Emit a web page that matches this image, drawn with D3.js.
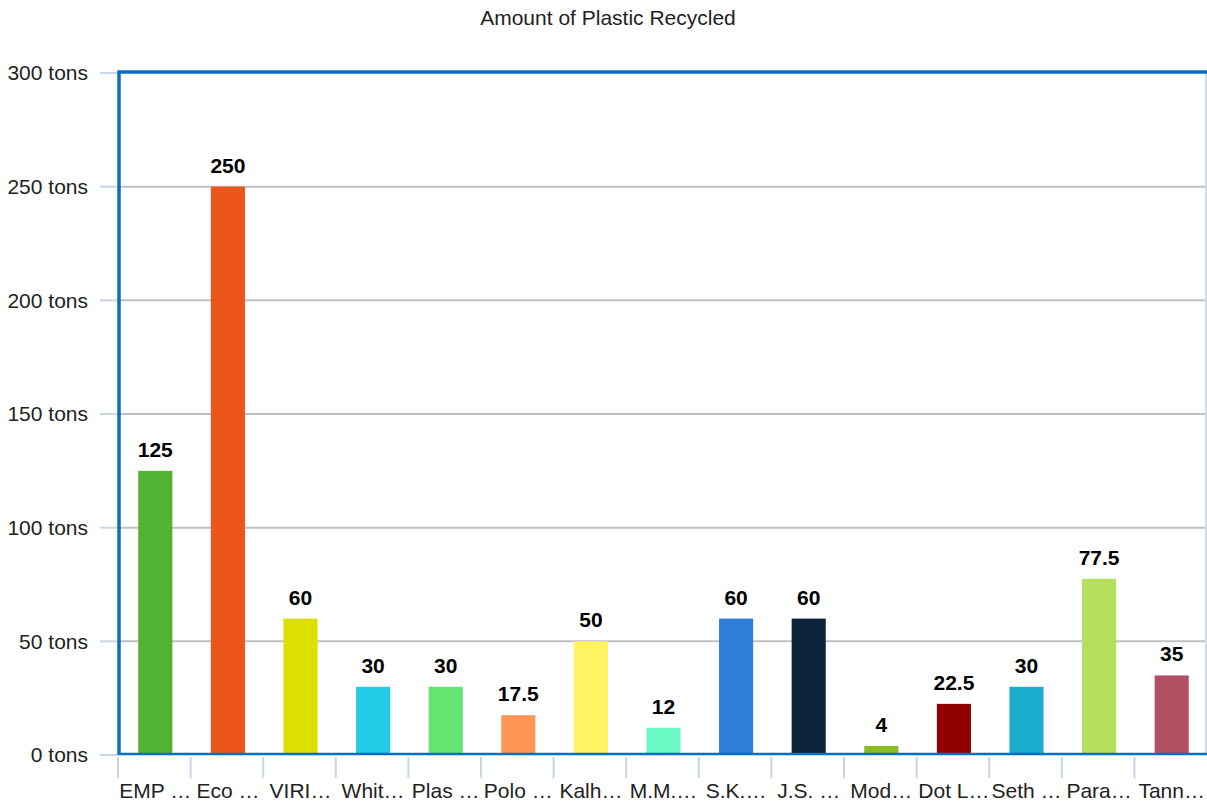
<!DOCTYPE html>
<html>
<head>
<meta charset="utf-8">
<script src="https://cdn.jsdelivr.net/npm/d3@7"></script>
<style>
body{margin:0;background:#fff;}
</style>
</head>
<body>
<div id="chart"></div>
<script>
var categories = ["EMP …","Eco …","VIRI…","Whit…","Plas …","Polo …","Kalh…","M.M.…","S.K.…","J.S. …","Mod…","Dot L…","Seth …","Para…","Tann…"];
var values = [125,250,60,30,30,17.5,50,12,60,60,4,22.5,30,77.5,35];
var colors = ["#50b432","#ed561b","#dddf00","#24cbe5","#64e572","#ff9655","#fff263","#6af9c4",
    "#2f7ed8","#0d233a","#8bbc21","#910000","#1aadce","#b5e05b","#b24f63"];
var yTicks = [0,50,100,150,200,250,300];

var width = 1207, height = 803;
var plotLeft = 119, plotRight = 1208, plotTop = 73, plotBottom = 755;
var font = "'Liberation Sans', Arial, sans-serif";

var svg = d3.select("#chart").append("svg")
    .attr("width",width)
    .attr("height",height)
    .attr("font-family",font);

var x = d3.scaleBand()
    .domain(categories)
    .range([plotLeft,plotRight])
    .paddingInner(0)
    .paddingOuter(0);
var y = d3.scaleLinear()
    .domain([0,300])
    .range([plotBottom,plotTop]);

svg.append("text")
    .attr("x",608)
    .attr("y",25)
    .attr("text-anchor","middle")
    .attr("font-size",21)
    .attr("fill","#222")
    .text("Amount of Plastic Recycled");

// grid lines
svg.append("g")
    .selectAll("line")
    .data(yTicks.slice(1,-1))
    .enter()
    .append("line")
    .attr("x1",plotLeft).attr("x2",width)
    .attr("y1",d=>y(d)).attr("y2",d=>y(d))
    .attr("stroke","#c0c0c0")
    .attr("stroke-width",2);

// y axis ticks and labels
var yg = svg.append("g");
yg.selectAll("line")
    .data(yTicks)
    .enter()
    .append("line")
    .attr("x1",100).attr("x2",plotLeft)
    .attr("y1",d=>y(d)).attr("y2",d=>y(d))
    .attr("stroke","#c8d6e6")
    .attr("stroke-width",2);
yg.selectAll("text")
    .data(yTicks)
    .enter()
    .append("text")
    .attr("x",88)
    .attr("y",d=>y(d))
    .attr("dy","0.35em")
    .attr("text-anchor","end")
    .attr("font-size",21)
    .attr("fill","#222")
    .text(d=>d+" tons");

// bars
svg.append("g")
    .selectAll("rect")
    .data(values)
    .enter()
    .append("rect")
    .attr("x",(d,i)=>x(categories[i])+x.bandwidth()*0.265)
    .attr("width",x.bandwidth()*0.47)
    .attr("y",d=>y(d))
    .attr("height",d=>plotBottom-y(d))
    .attr("fill",(d,i)=>colors[i]);

// data labels
svg.append("g")
    .selectAll("text")
    .data(values)
    .enter()
    .append("text")
    .attr("x",(d,i)=>x(categories[i])+x.bandwidth()*0.5)
    .attr("y",d=>y(d)-14)
    .attr("text-anchor","middle")
    .attr("font-size",21)
    .attr("font-weight","bold")
    .attr("fill","#000")
    .attr("stroke","#fff")
    .attr("stroke-width",5)
    .attr("paint-order","stroke")
    .text(d=>d);

// frame
svg.append("line")
    .attr("x1",width-1).attr("x2",width-1)
    .attr("y1",plotTop).attr("y2",plotBottom)
    .attr("stroke","#d0dcea").attr("stroke-width",2);
svg.append("path")
    .attr("d",`M${width},${plotTop-1}H${plotLeft}V${plotBottom}`)
    .attr("fill","none")
    .attr("stroke","#0a6fc2")
    .attr("stroke-width",3.5);
svg.append("line")
    .attr("x1",plotLeft).attr("x2",width)
    .attr("y1",plotBottom-1).attr("y2",plotBottom-1)
    .attr("stroke","#0a6fc2")
    .attr("stroke-width",2.5);

// x ticks and labels
var xg = svg.append("g");
xg.selectAll("line")
    .data(categories)
    .enter()
    .append("line")
    .attr("x1",d=>x(d)-1).attr("x2",d=>x(d)-1)
    .attr("y1",757).attr("y2",778)
    .attr("stroke","#c8d6e6")
    .attr("stroke-width",2);
xg.selectAll("text")
    .data(categories)
    .enter()
    .append("text")
    .attr("x",d=>x(d)+x.bandwidth()/2)
    .attr("y",798)
    .attr("text-anchor","middle")
    .attr("font-size",21)
    .attr("fill","#222")
    .text(d=>d);
</script>
</body>
</html>
